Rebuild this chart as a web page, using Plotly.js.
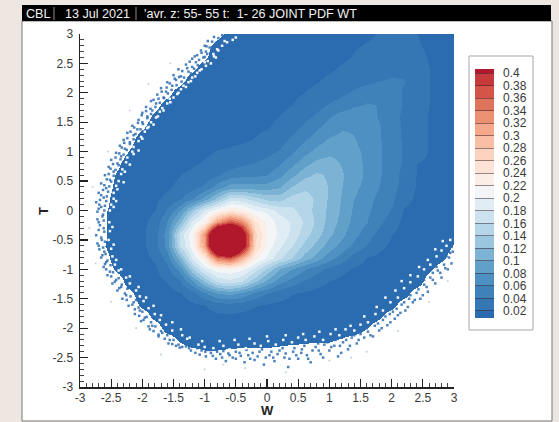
<!DOCTYPE html>
<html><head><meta charset="utf-8">
<script src="https://cdn.plot.ly/plotly-3.0.1.min.js"></script>
<style>html,body{margin:0;padding:0;background:#ede6e1}</style></head>
<body><div id="chart" style="width:559px;height:422px"></div>
<script>
const W_VALUES=[-3,-2.8,-2.6,-2.4,-2.2,-2,-1.8,-1.6,-1.4,-1.2,-1,-0.8,-0.6,-0.4,-0.2,0,0.2,0.4,0.6,0.8,1,1.2,1.4,1.6,1.8,2,2.2,2.4,2.6,2.8,3];
const T_VALUES=[3,2.8,2.6,2.4,2.2,2,1.8,1.6,1.4,1.2,1,0.8,0.6,0.4,0.2,0,-0.2,-0.4,-0.6,-0.8,-1,-1.2,-1.4,-1.6,-1.8,-2,-2.2,-2.4,-2.6,-2.8,-3];
// joint PDF, in thousandths; one row per T value
const pdfMilli=[
[0,0,0,0,0,0,0,0,0,0,0,2,8,10,10,11,11,12,12,13,14,15,16,18,21,22,21,20,17,13,10],
[0,0,0,0,0,0,0,0,0,0,2,8,10,10,11,11,12,12,13,14,15,16,19,21,23,24,24,21,18,13,10],
[0,0,0,0,0,0,0,0,0,0,4,10,10,11,11,12,12,13,14,15,16,18,21,24,26,27,27,24,19,14,10],
[0,0,0,0,0,0,0,0,0,3,10,10,10,11,12,12,13,14,15,16,18,22,26,30,34,36,34,27,20,14,10],
[0,0,0,0,0,0,0,0,2,10,10,11,11,12,13,13,14,15,17,19,23,27,32,36,40,42,41,31,20,14,10],
[0,0,0,0,0,0,0,2,10,10,10,11,12,12,13,14,15,17,20,24,29,36,43,50,53,49,37,27,20,14,10],
[0,0,0,0,0,0,2,9,10,10,11,12,12,13,14,15,17,20,25,33,42,50,57,62,59,48,38,27,20,14,10],
[0,0,0,0,0,0,7,10,10,11,11,12,13,14,15,17,20,25,33,44,58,68,72,70,58,47,36,27,19,14,10],
[0,0,0,0,0,4,10,11,11,11,12,13,14,15,17,19,24,32,44,58,70,78,78,71,62,48,37,27,19,13,10],
[0,0,0,0,2,10,10,11,11,12,13,14,15,18,21,26,32,44,58,72,83,87,81,73,62,49,37,27,19,13,10],
[0,0,0,0,6,10,11,11,12,14,17,21,24,27,30,35,42,58,74,88,96,93,85,75,62,50,37,27,19,13,10],
[0,0,0,3,10,10,11,12,13,17,22,27,30,36,40,46,56,74,92,106,108,98,87,76,63,50,37,20,17,12,10],
[0,0,0,6,10,11,12,14,20,25,30,38,50,55,56,60,74,95,114,124,116,102,89,76,62,49,33,19,14,11,10],
[0,0,0,8,10,11,13,17,25,33,44,70,90,92,90,90,98,122,136,134,118,100,85,73,60,47,32,18,13,10,10],
[0,0,2,10,10,12,16,26,38,58,92,128,172,168,150,135,132,150,150,136,117,98,80,67,54,43,26,16,12,10,10],
[0,0,4,10,10,13,20,42,80,135,188,220,245,232,205,195,175,165,150,133,115,96,76,63,52,38,18,14,11,10,10],
[0,0,4,10,11,15,28,60,115,185,225,320,375,335,245,215,192,178,158,135,112,92,73,60,45,28,15,12,11,10,10],
[0,0,4,10,12,16,32,70,165,215,330,560,640,450,265,220,195,175,150,128,105,85,66,50,33,20,14,12,11,10,10],
[0,0,5,10,12,16,31,68,160,210,325,560,640,445,262,212,185,160,135,112,90,72,54,38,25,16,13,12,11,10,4],
[0,0,2,10,11,14,23,48,112,182,235,345,370,300,225,195,165,140,112,90,68,50,30,19,15,13,12,11,11,7,0],
[0,0,0,7,10,12,17,33,68,135,188,210,215,205,170,135,100,80,62,48,34,24,18,15,13,12,11,11,7,0,0],
[0,0,0,0,10,11,14,21,38,76,125,165,175,160,125,95,70,52,38,26,20,16,14,13,12,11,11,10,0,0,0],
[0,0,0,0,3,10,11,13,19,30,58,80,88,76,56,40,29,21,18,15,14,13,12,11,11,10,9,0,0,0,0],
[0,0,0,0,0,7,10,11,13,16,20,30,32,28,21,18,16,14,13,12,12,11,11,10,10,8,0,0,0,0,0],
[0,0,0,0,0,0,8,10,11,12,13,15,17,15,14,13,12,12,11,11,11,10,10,10,7,0,0,0,0,0,0],
[0,0,0,0,0,0,0,9,10,10,10,10,11,10,10,10,10,10,10,10,10,10,10,5,0,0,0,0,0,0,0],
[0,0,0,0,0,0,0,0,6,10,10,10,10,10,10,10,9,8,7,6,6,4,1,0,0,0,0,0,0,0,0],
[0,0,0,0,0,0,0,0,0,2,4,4,3,2,2,2,1,0,0,0,0,0,0,0,0,0,0,0,0,0,0],
[0,0,0,0,0,0,0,0,0,0,0,0,0,0,0,0,0,0,0,0,0,0,0,0,0,0,0,0,0,0,0],
[0,0,0,0,0,0,0,0,0,0,0,0,0,0,0,0,0,0,0,0,0,0,0,0,0,0,0,0,0,0,0],
[0,0,0,0,0,0,0,0,0,0,0,0,0,0,0,0,0,0,0,0,0,0,0,0,0,0,0,0,0,0,0]
];
// isolated samples scattered beyond the solid edge
const speckleW=[-0.72,-0.85,-0.7,-0.95,-0.82,-1,-0.92,-1.06,-0.98,-1.12,-1.02,-1.2,-1.14,-1.3,-1.2,-1.42,-1.26,-1.5,-1.38,-1.46,-1.6,-1.52,-1.7,-1.62,-1.76,-1.66,-1.86,-1.78,-1.94,-1.84,-2,-1.92,-2.06,-2,-2.16,-2.08,-2.24,-2.14,-2.3,-2.2,-2.36,-2.28,-2.42,-2.34,-2.5,-2.4,-2.54,-2.46,-2.6,-2.52,-2.66,-2.58,-2.7,-2.62,-2.74,-2.66,-2.72,-2.64,
-2.7,-2.62,-2.74,-2.65,-2.7,-2.61,-2.66,-2.58,-2.62,-2.52,-2.56,-2.42,-2.48,-2.34,-2.4,-2.26,-2.32,-2.14,-2.22,-2.04,-2.12,-1.96,-2.02,-1.84,-1.88,-1.68,-1.74,-1.56,-1.58,-1.36,-1.46,
-1.25,-1.15,-1.05,-0.98,-0.9,-0.82,-0.75,-0.66,-0.6,-0.5,-0.44,-0.36,-0.3,-0.2,-0.12,-0.05,0.04,0.12,0.2,0.28,0.34,0.42,0.5,0.56,0.64,0.7,0.78,0.86,0.92,1,1.08,1.14,1.22,1.3,1.36,1.44,1.5,
1.56,1.62,1.7,1.78,1.84,1.9,1.98,2.02,2.1,2.16,2.22,2.28,2.34,2.4,2.46,2.52,2.58,2.62,2.7,2.74,2.8,2.84,2.9,2.92,2.96,2.98];
const speckleT=[2.98,2.95,2.92,2.88,2.85,2.8,2.77,2.72,2.7,2.64,2.6,2.58,2.52,2.48,2.44,2.4,2.36,2.3,2.28,2.22,2.18,2.12,2.08,2.02,1.97,1.92,1.86,1.82,1.76,1.7,1.66,1.6,1.54,1.5,1.44,1.38,1.32,1.28,1.2,1.16,1.1,1.05,0.98,0.92,0.86,0.8,0.74,0.66,0.6,0.52,0.46,0.38,0.3,0.22,0.14,0.06,-0.02,-0.1,
-0.2,-0.3,-0.42,-0.5,-0.6,-0.7,-0.8,-0.88,-0.96,-1.04,-1.1,-1.18,-1.24,-1.3,-1.36,-1.44,-1.5,-1.56,-1.62,-1.7,-1.76,-1.82,-1.88,-1.96,-2.02,-2.08,-2.14,-2.2,-2.26,-2.32,-2.3,
-2.34,-2.42,-2.38,-2.48,-2.42,-2.52,-2.44,-2.56,-2.46,-2.52,-2.42,-2.58,-2.46,-2.54,-2.4,-2.62,-2.46,-2.56,-2.38,-2.5,-2.66,-2.4,-2.52,-2.36,-2.46,-2.58,-2.32,-2.44,-2.28,-2.38,-2.3,-2.48,-2.24,-2.36,-2.16,-2.26,-2.1,
-2.16,-2.06,-2.14,-1.92,-2,-1.8,-1.9,-1.72,-1.78,-1.6,-1.7,-1.5,-1.56,-1.4,-1.5,-1.26,-1.38,-1.14,-1.24,-1.02,-1.14,-0.92,-1,-0.8,-0.9,-0.7];
// second pass of the dense fringe, as [W, T] pairs
const fringePairs=[[-.63,2.97],[-.66,2.91],[-.78,2.93],[-.74,2.84],[-.88,2.87],[-.84,2.78],[-.89,2.73],[-.97,2.79],[-.96,2.66],[-1.05,2.68],[-1,2.61],[-1.09,2.56],[-1.16,2.62],[-1.11,2.47],[-1.24,2.53],[-1.17,2.41],[-1.28,2.42],[-1.22,2.33],[-1.36,2.37],[-1.33,2.26],[-1.41,2.27],[-1.37,2.19],[-1.48,2.24],[-1.45,2.13],[-1.56,2.16],[-1.53,2.05],[-1.61,2.09],[-1.59,1.99],[-1.69,2.02],[-1.65,1.91],[-1.74,1.9],[-1.72,1.83],[-1.82,1.88],[-1.79,1.76],[-1.87,1.73],[-1.86,1.64],[-1.94,1.69],[-1.92,1.57],[-2.01,1.62],[-1.99,1.47],[-2.07,1.49],[-2.03,1.38],[-2.13,1.41],[-2.11,1.3],[-2.19,1.34],[-2.14,1.21],[-2.24,1.23],[-2.2,1.13],[-2.29,1.15],[-2.25,1.03],[-2.33,1.07],[-2.3,.95],[-2.37,.97],[-2.35,.87],[-2.43,.9],[-2.38,.77],[-2.47,.79],[-2.43,.69],[-2.51,.71],[-2.46,.59],[-2.54,.62],[-2.5,.49],[-2.57,.53],[-2.53,.41],[-2.61,.43],[-2.55,.32],[-2.63,.35],[-2.57,.24],[-2.66,.26],[-2.58,.16],[-2.68,.18],[-2.6,.08],[-2.69,.1],[-2.61,0],[-2.7,.03],
[-2.63,-.07],[-2.72,-.15],[-2.62,-.17],[-2.68,-.25],[-2.61,-.36],[-2.7,-.33],[-2.66,-.46],[-2.6,-.53],[-2.72,-.56],[-2.63,-.63],[-2.69,-.66],[-2.59,-.74],[-2.64,-.76],[-2.56,-.85],[-2.6,-.91],[-2.51,-.93],[-2.58,-1],[-2.47,-1.05],[-2.5,-1.12],[-2.38,-1.15],[-2.44,-1.21],[-2.33,-1.26],[-2.37,-1.32],[-2.24,-1.33],[-2.28,-1.41],[-2.19,-1.46],[-2.25,-1.52],[-2.1,-1.52],[-2.16,-1.6],[-2.06,-1.65],[-2.12,-1.68],[-2,-1.72],[-2.05,-1.79],[-1.93,-1.81],[-1.98,-1.86],[-1.86,-1.9],[-1.9,-1.97],[-1.79,-1.97],[-1.82,-2.05],[-1.7,-2.05],[-1.74,-2.11],[-1.6,-2.12],[-1.64,-2.18],[-1.5,-2.2],[-1.52,-2.27],[-1.42,-2.28],[-1.4,-2.33],[-1.3,-2.31],
[-1.22,-2.38],[-1.12,-2.34],[-1.08,-2.45],[-.99,-2.4],[-.94,-2.37],[-.87,-2.47],[-.8,-2.4],[-.72,-2.5],[-.7,-2.39],[-.62,-2.43],[-.55,-2.5],[-.5,-2.4],[-.42,-2.47],[-.33,-2.37],[-.27,-2.52],[-.23,-2.42],[-.15,-2.48],[-.08,-2.36],[-.02,-2.5],[.07,-2.4],[.1,-2.5],[.17,-2.44],[.25,-2.34],[.3,-2.43],[.36,-2.52],[.44,-2.34],[.47,-2.46],[.55,-2.42],[.6,-2.3],[.66,-2.52],[.73,-2.38],[.82,-2.26],[.83,-2.38],[.9,-2.5],[.97,-2.24],[1.03,-2.32],[1.1,-2.2],[1.17,-2.3],[1.19,-2.42],[1.27,-2.2],[1.33,-2.3],[1.4,-2.12],[1.47,-2.2],[1.53,-2.04],
[1.6,-2],[1.66,-2.12],[1.73,-1.96],[1.8,-2.04],[1.86,-1.86],[1.93,-1.95],[1.97,-1.76],[2.05,-1.84],[2.08,-1.67],[2.14,-1.74],[2.2,-1.56],[2.26,-1.64],[2.3,-1.44],[2.37,-1.52],[2.43,-1.34],[2.5,-1.44],[2.52,-1.18],[2.56,-1.3],[2.66,-1.06],[2.66,-1.18],[2.72,-.96],[2.78,-1.06],[2.8,-.84],[2.86,-.98],[2.88,-.78],[2.94,-.72],[2.96,-.62]];
// faint far-out samples, as [W, T] pairs
const farPairs=[[-1.55,2.5],[-1.9,2.15],[-2.2,1.7],[-2.55,1],[-2.8,.4],[-2.85,-.3],[-2.75,-.9],[-2.5,-1.55],[-2.1,-2],[-1.7,-2.45],[-1,-2.7],[-.35,-2.68],[.3,-2.75],[1,-2.55],[1.6,-2.4],[2.1,-2.05],[2.6,-1.55],[2.9,-1.2],[1.35,-2.5],[-.7,-2.62]];
// small empty cells just inside the solid edge
const holeW=[-0.5,-0.64,-0.72,-0.8,-0.86,-0.82,-0.95,-0.98,-1.05,-1.12,-1.2,-1.22,-1.34,-1.38,-1.44,-1.56,-1.55,-1.68,-1.72,-1.78,-1.86,-1.9,-1.96,-2.02,-2.06,-2.14,-2.16,-2.24,-2.26,-2.32,-2.34,-2.38,-2.42,-2.46,-2.46,-2.5,-2.52,
-2.53,-2.52,-2.54,-2.5,-2.48,-2.44,-2.38,-2.26,-2.2,-2.1,-2.04,-1.98,-1.9,-1.8,-1.72,-1.62,-1.52,-1.36,-1.28,
-1.1,-1,-0.86,-0.7,-0.6,-0.46,-0.34,-0.2,-0.1,0.02,0.14,0.26,0.4,0.5,0.62,0.76,0.9,1.02,1.16,1.26,1.4,1.5,
1.62,1.74,1.86,1.98,2.1,2.2,2.3,2.42,2.52,2.62,2.72,2.8,2.88,2.94,
-0.55,-0.68,-0.78,-0.85,-0.9,-1,-1.08,-1.15,-1.26,-1.3,-1.42,-1.5,-1.6,-1.66,-1.75,-1.82,-1.92,-2,-2.06,-2.14,-2.2,-2.28,-2.3,-2.4,-2.42,-2.46,
-2.48,-2.46,-2.42,-2.34,-2.2,-2.06,-1.94,-1.82,-1.7,-1.52,-1.38,-1.24,-1.04,-0.76,-0.52,-0.28,0,0.3,0.58,0.84,1.1,1.34,1.56,1.76,1.9,2.06,2.16,2.3,2.44,2.58,2.7,2.82];
const holeT=[2.94,2.86,2.8,2.74,2.66,2.6,2.54,2.46,2.4,2.34,2.26,2.2,2.12,2.06,1.98,1.9,1.84,1.74,1.68,1.58,1.5,1.42,1.34,1.25,1.18,1.08,1,0.9,0.82,0.7,0.62,0.5,0.42,0.3,0.2,0.1,0,
-0.2,-0.35,-0.5,-0.65,-0.78,-0.92,-1.02,-1.14,-1.24,-1.36,-1.46,-1.54,-1.66,-1.76,-1.86,-1.94,-2.04,-2.12,-2.18,
-2.28,-2.32,-2.34,-2.3,-2.36,-2.28,-2.34,-2.26,-2.3,-2.22,-2.28,-2.2,-2.24,-2.16,-2.2,-2.14,-2.2,-2.1,-2.12,-2.02,-2.04,-1.94,
-1.9,-1.76,-1.7,-1.56,-1.48,-1.32,-1.22,-1.12,-1,-0.92,-0.78,-0.68,-0.6,-0.5,
2.9,2.88,2.72,2.62,2.5,2.52,2.38,2.28,2.18,2.1,2,1.92,1.82,1.7,1.6,1.46,1.4,1.22,1.02,0.96,0.78,0.66,0.48,0.36,0.16,0.06,
-0.28,-0.58,-0.84,-1,-1.12,-1.3,-1.48,-1.62,-1.78,-1.9,-2.02,-2.16,-2.22,-2.22,-2.2,-2.18,-2.14,-2.12,-2.1,-2.06,-2.02,-1.96,-1.8,-1.64,-1.48,-1.36,-1.2,-1.1,-0.96,-0.84,-0.66,-0.52];
// legend levels, bottom to top
const levels=[0.02,0.04,0.06,0.08,0.1,0.12,0.14,0.16,0.18,0.2,0.22,0.24,0.26,0.28,0.3,0.32,0.34,0.36,0.38,0.4];
const levelLabels=levels.map(String);
const bandColors=['#2b6cb0','#3577b5','#3f82ba','#4d90c1','#60a0c9','#7cb3d5','#9ac6e0','#b5d6e8','#cde2ef','#e1edf4','#f3f5f6','#fbeee6','#fde3d6','#fcd3bf','#f9bfa4','#f5a98a','#ec9072','#e0735b','#d45548','#c63a3c','#b2182b'];
const axisTicks=[-3,-2.5,-2,-1.5,-1,-0.5,0,0.5,1,1.5,2,2.5,3];
const axisLabels=axisTicks.map(String);

const Z_TOP=0.42, Z_EMPTY=0.005, BAR_LOW=0.0088, BAR_HIGH=0.4064;
const stops=[[0,'#ffffff'],[Z_EMPTY/Z_TOP,'#ffffff']];
let lower=Z_EMPTY;
bandColors.forEach((c,i)=>{
  const upper=i<levels.length?levels[i]:Z_TOP;
  stops.push([lower/Z_TOP,c],[upper/Z_TOP,c]);
  lower=upper;
});
const px=x=>x/559, py=y=>1-y/422;
const rect=(x0,y0,x1,y1,fill,line,lw)=>({type:'rect',xref:'paper',yref:'paper',x0:px(x0),x1:px(x1),y0:py(y0),y1:py(y1),fillcolor:fill,line:{color:line,width:lw},layer:'below'});
const vline=(x,y0,y1)=>({type:'line',xref:'paper',yref:'paper',x0:px(x),x1:px(x),y0:py(y0),y1:py(y1),line:{color:'#8a8a8a',width:1},layer:'below'});
const FONT='Liberation Sans, Arial, sans-serif';
const note=(x,y,text)=>({xref:'paper',yref:'paper',x:px(x),y:py(y),xanchor:'left',yanchor:'middle',showarrow:false,text:text,borderpad:0,font:{family:FONT,size:12.6,color:'#f2f2f2'}});
const axisNote=(x,y,text,angle)=>({xref:'paper',yref:'paper',x:px(x),y:py(y),xanchor:'center',yanchor:'middle',showarrow:false,text:'<b>'+text+'</b>',textangle:angle,borderpad:0,font:{family:FONT,size:13,color:'#222'}});
const bandEdges=[BAR_LOW].concat(levels,[BAR_HIGH]);
const bandZ=bandColors.map((c,i)=>(bandEdges[i]+bandEdges[i+1])/2);

const traces=[
 {type:'heatmap',x:W_VALUES,y:T_VALUES,z:pdfMilli.map(r=>r.map(v=>v/1000)),zsmooth:'best',zmin:0,zmax:Z_TOP,zauto:false,colorscale:stops,showscale:false,hoverinfo:'skip'},
 {type:'scatter',mode:'markers',x:speckleW.concat(fringePairs.map(p=>p[0])),y:speckleT.concat(fringePairs.map(p=>p[1])),marker:{symbol:'square',size:2.5,color:'#2b6cb0',opacity:0.85},hoverinfo:'skip',showlegend:false},
 {type:'scatter',mode:'markers',x:farPairs.map(p=>p[0]),y:farPairs.map(p=>p[1]),marker:{symbol:'square',size:1.6,color:'#2b6cb0',opacity:0.35},hoverinfo:'skip',showlegend:false},
 {type:'scatter',mode:'markers',x:holeW,y:holeT,marker:{symbol:'square',size:2.5,color:'#ffffff',opacity:0.95},hoverinfo:'skip',showlegend:false},
 {type:'heatmap',xaxis:'x2',yaxis:'y2',x:[0,1],y:bandEdges,z:bandZ.map(v=>[v]),zmin:0,zmax:Z_TOP,zauto:false,colorscale:stops,showscale:false,hoverinfo:'skip'}
];
const tickFont={family:FONT,size:12,color:'#3a3a3a'};
const layout={
 width:559,height:422,margin:{l:0,r:0,t:0,b:0},paper_bgcolor:'#ede6e1',plot_bgcolor:'rgba(0,0,0,0)',showlegend:false,
 xaxis:{domain:[px(80),px(454)],range:[-3,3],tickvals:axisTicks,ticktext:axisLabels,ticks:'inside',ticklen:8,tickwidth:1.3,tickcolor:'#222',
   minor:{dtick:0.1,ticks:'inside',ticklen:4,tickwidth:1,tickcolor:'#444'},showgrid:false,zeroline:false,showline:true,linecolor:'#222',linewidth:1.5,tickfont:tickFont,ticklabelstandoff:-1},
 yaxis:{domain:[py(387),py(34)],range:[-3,3],tickvals:axisTicks,ticktext:axisLabels,ticks:'inside',ticklen:8,tickwidth:1.3,tickcolor:'#222',
   minor:{dtick:0.1,ticks:'inside',ticklen:4,tickwidth:1,tickcolor:'#444'},showgrid:false,zeroline:false,showline:true,linecolor:'#222',linewidth:1.5,tickfont:tickFont,ticklabelstandoff:3},
 xaxis2:{domain:[px(475),px(494)],range:[0,1],anchor:'y2',showticklabels:false,ticks:'',showgrid:false,zeroline:false,showline:false},
 yaxis2:{domain:[py(318),py(69)],range:[BAR_LOW,BAR_HIGH],anchor:'x2',side:'right',tickvals:levels,ticktext:levelLabels,ticks:'inside',ticklen:19,tickwidth:1,tickcolor:'rgba(50,30,40,0.5)',
   showgrid:false,zeroline:false,showline:false,tickfont:tickFont,ticklabelstandoff:8},
 shapes:[rect(22,21,552,421,'#ffffff','#777777',1),rect(22,5,551,21,'#000000','#000000',0),rect(469,56,533,330,'#ffffff','#a8a8a8',1),vline(54,7,20),vline(136,7,20)],
 annotations:[note(25,14,'CBL'),note(64,14,'13 Jul 2021'),note(143,14,"'avr. z: 55- 55 t:  1- 26 JOINT PDF WT"),axisNote(267,410,'W',0),axisNote(43,211,'T',-90)]
};
Plotly.newPlot('chart',traces,layout,{displayModeBar:false,staticPlot:true});
</script></body></html>
